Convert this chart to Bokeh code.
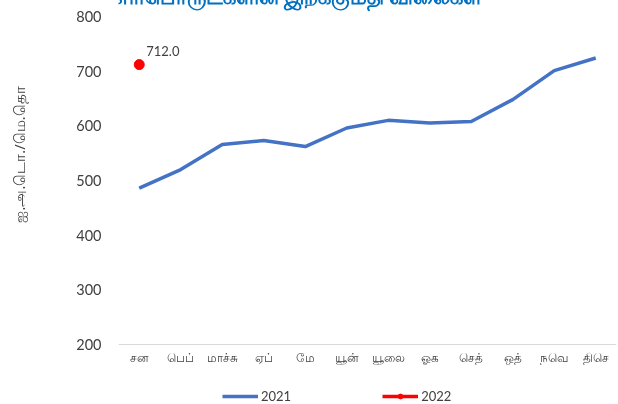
from bokeh.plotting import figure
from bokeh.models import (ColumnDataSource, FactorRange, Range1d, FixedTicker, Label,
                          LabelSet, Legend, LegendItem)
from bokeh.core.properties import value
from bokeh.embed import file_html
from bokeh.resources import INLINE

months = ["சன", "பெப்", "மாச்சு", "ஏப்", "மே", "யூன்", "யூலை", "ஓக", "செத்", "ஒத்", "நவெ", "திசெ"]
values_2021 = [486, 520, 566, 573, 562, 596, 610, 605, 608, 648, 701, 724]
months_2022 = ["சன"]
values_2022 = [712.0]
y_ticks = [200, 300, 400, 500, 600, 700, 800]
title_text = "எரிபொருட்களின் இறக்குமதி விலைகள்"
y_label = "ஐ.அ.டொ./மெ.தொ"

# layout (page pixels)
W = 618
FL = 118                 # frame left
T_PAGE = -100            # frame top on the page (canvas starts here)
B_PAGE = 408             # frame bottom on the page
Y800, Y200 = 16, 344     # page rows of the 800 and 200 values
FB = 40                  # bottom border (x-axis panel, pushed below the window)
FH = B_PAGE - T_PAGE
H = FH + FB
k = (Y200 - Y800) / (y_ticks[-1] - y_ticks[0])
y_end = y_ticks[-1] + (Y800 - T_PAGE) / k
y_start = y_ticks[0] - (B_PAGE - Y200) / k

p = figure(width=W, height=H, x_range=FactorRange(*months, range_padding=0),
           y_range=Range1d(y_start, y_end), output_backend="svg", toolbar_location=None,
           min_border_left=FL, min_border_right=2, min_border_top=0, min_border_bottom=FB,
           styles={"position": "fixed", "left": "0px", "top": f"{T_PAGE}px"})
p.outline_line_color = None
p.xgrid.grid_line_color = None
p.ygrid.grid_line_color = None

p.yaxis.ticker = FixedTicker(ticks=y_ticks)
p.yaxis.axis_line_color = None
p.yaxis.major_tick_line_color = None
p.yaxis.minor_tick_line_color = None
p.yaxis.major_label_standoff = 11
p.yaxis.major_label_text_font = "Lato"
p.yaxis.major_label_text_font_size = "14.5px"
p.yaxis.major_label_text_color = "#404040"
p.yaxis.axis_label = y_label
p.yaxis.axis_label_standoff = 44
p.yaxis.axis_label_text_font = "Noto Sans"
p.yaxis.axis_label_text_font_size = "14.6px"
p.yaxis.axis_label_text_font_style = "normal"
p.yaxis.axis_label_text_color = "#404040"

p.xaxis.fixed_location = y_ticks[0]
p.xaxis.axis_line_color = "#d9d9d9"
p.xaxis.axis_line_width = 1
p.xaxis.major_tick_line_color = None
p.xaxis.minor_tick_line_color = None
p.xaxis.major_label_standoff = -2
p.xaxis.major_label_text_font = "Noto Sans"
p.xaxis.major_label_text_font_size = "12px"
p.xaxis.major_label_text_color = "#404040"

src21 = ColumnDataSource(dict(x=months, y=values_2021))
src22 = ColumnDataSource(dict(x=months_2022, y=values_2022,
                              t=["%.1f" % v for v in values_2022]))
l21 = p.line("x", "y", source=src21, line_color="#4472C4", line_width=3.5)
l22 = p.line("x", "y", source=src22, line_color="#FF0000", line_width=3.5)
s22 = p.scatter("x", "y", source=src22, size=10, fill_color="#FF0000", line_color="#FF0000")

p.add_layout(LabelSet(x="x", y="y", text="t", source=src22, x_offset=7, y_offset=9,
                      text_font=value("Lato"), text_font_size="13px", text_color="#404040",
                      text_baseline="bottom"))

# chart title: only its lower edge shows at the top of the window, as in the reference
p.add_layout(Label(x=112 - FL, y=B_PAGE + 5, x_units="screen", y_units="screen",
                   text=title_text, text_align="left", text_baseline="alphabetic",
                   text_font="Noto Sans", text_font_size="20.5px", text_font_style="bold",
                   text_color="#0070C0"))

legend = Legend(items=[LegendItem(label="2021", renderers=[l21]),
                       LegendItem(label="2022", renderers=[l22, s22])],
                orientation="horizontal", location=(222 - FL, B_PAGE - 404),
                glyph_width=36, glyph_height=12, label_standoff=3, label_width=30,
                spacing=91, padding=0, margin=0, border_line_color=None,
                background_fill_alpha=0, label_text_font="Lato",
                label_text_font_size="13px", label_text_color="#404040",
                label_height=12)
p.add_layout(legend, "center")

open("out.html", "w").write(file_html(p, INLINE))
